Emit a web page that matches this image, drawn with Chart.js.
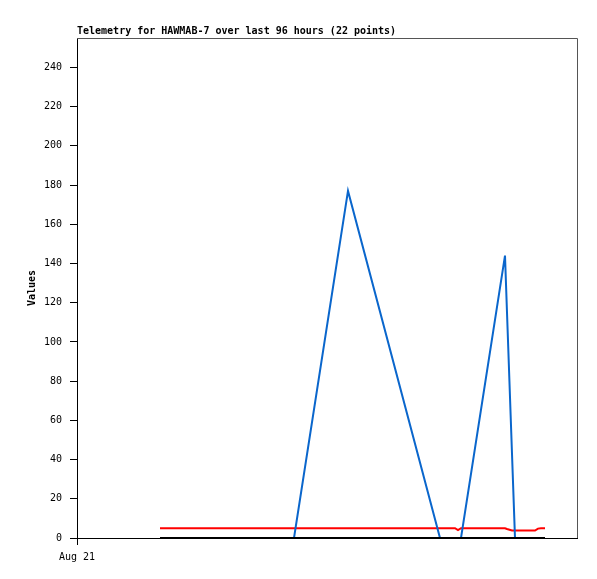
<!DOCTYPE html>
<html>
<head>
<meta charset="utf-8">
<script src="https://cdn.jsdelivr.net/npm/chart.js@4"></script>
<style>
  body { margin: 0; background: #fff; }
</style>
</head>
<body>
<canvas id="chart" width="597" height="579"></canvas>
<script>
// hours since Aug 21 00:00
const hours = [20.75, 28.5, 36.25, 44, 49.5, 54.25, 67.75, 90.75, 94.5, 95.25, 96,
  107, 107.5, 108.75, 109.5, 110.75, 112, 113.25, 114.5, 115.25, 116, 117];
const seriesA = [0, 0, 0, 0, 0, 0, 0, 0, 0, 0, 0, 0, 0, 0, 0, 0, 0, 0, 0, 0, 0, 0];
const seriesB = [0, 0, 0, 0, 0, 0, 177, 0, 0, 0, 0, 144, 115, 43, 0, 0, 0, 0, 0, 0, 0, 0];
const seriesC = [5, 5, 5, 5, 5, 5, 5, 5, 5, 4, 5, 5, 4.6, 3.8, 3.8, 3.8, 3.8, 3.8, 3.8, 4.8, 5, 5];
const yTicks = [0, 20, 40, 60, 80, 100, 120, 140, 160, 180, 200, 220, 240];
const xTickLabels = ['Aug 21'];
const titleText = 'Telemetry for HAWMAB-7 over last 96 hours (22 points)';

const mono = 'DejaVu Sans Mono';
const pts = (vals) => hours.map((h, i) => ({ x: h, y: vals[i] }));

const decor = {
  id: 'decor',
  afterDraw(chart) {
    const { ctx, chartArea: a } = chart;
    ctx.save();
    ctx.strokeStyle = '#555';
    ctx.lineWidth = 1;
    ctx.beginPath();
    ctx.moveTo(a.left, a.top + 0.5);
    ctx.lineTo(a.right + 0.5, a.top + 0.5);
    ctx.lineTo(a.right + 0.5, a.bottom);
    ctx.stroke();
    ctx.fillStyle = '#000';
    ctx.font = 'bold 10px ' + mono;
    ctx.textBaseline = 'alphabetic';
    ctx.textAlign = 'left';
    ctx.fillText(titleText, a.left, 34);
    ctx.translate(32, (a.top + a.bottom) / 2);
    ctx.rotate(-Math.PI / 2);
    ctx.textAlign = 'center';
    ctx.textBaseline = 'middle';
    ctx.fillText('Values', 0, 0);
    ctx.restore();
  }
};

new Chart(document.getElementById('chart'), {
  type: 'line',
  data: {
    datasets: [
      { data: pts(seriesA), borderColor: '#000000', borderWidth: 2 },
      { data: pts(seriesB), borderColor: '#0a66cc', borderWidth: 2 },
      { data: pts(seriesC), borderColor: '#ff0000', borderWidth: 2 }
    ]
  },
  options: {
    responsive: false,
    animation: false,
    layout: { padding: { top: 38, right: 20, left: 0, bottom: 0 } },
    elements: { point: { radius: 0 }, line: { tension: 0 } },
    plugins: { legend: { display: false }, tooltip: { enabled: false }, title: { display: false } },
    scales: {
      x: {
        type: 'linear',
        min: 0,
        max: 125,
        afterBuildTicks: (s) => { s.ticks = [{ value: 0 }]; },
        afterFit: (s) => { s.height = 41; },
        ticks: {
          callback: (v, i) => xTickLabels[i],
          color: '#000',
          font: { family: mono, size: 10 },
          maxRotation: 0,
          padding: 6
        },
        grid: { drawOnChartArea: false, drawTicks: true, tickLength: 7, tickColor: '#000' },
        border: { color: '#000', width: 1 }
      },
      y: {
        min: 0,
        max: 255,
        afterBuildTicks: (s) => { s.ticks = yTicks.map(v => ({ value: v })); },
        afterFit: (s) => { s.width = 77; },
        ticks: {
          color: '#000',
          font: { family: mono, size: 10 },
          padding: 8
        },
        grid: { drawOnChartArea: false, drawTicks: true, tickLength: 7, tickColor: '#000' },
        border: { color: '#000', width: 1 }
      }
    }
  },
  plugins: [decor]
});
</script>
</body>
</html>
